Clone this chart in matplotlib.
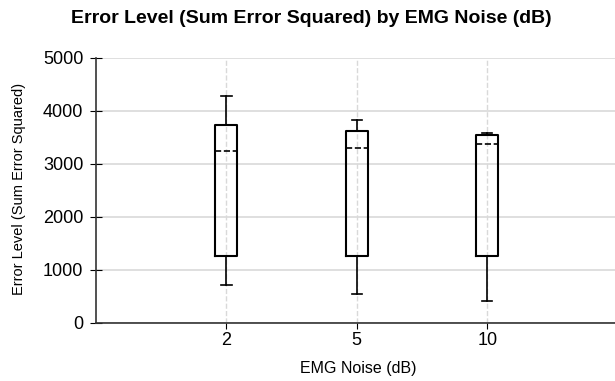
import matplotlib.pyplot as plt

plt.rcParams['font.family'] = ['Liberation Sans', 'DejaVu Sans']

# box stats
noise_levels = ['2', '5', '10']
whisker_low = [714, 543, 403]
q1 = [1269, 1263, 1263]
median = [3250, 3308, 3371]
q3 = [3731, 3617, 3542]
whisker_high = [4280, 3826, 3580]

stats = []
for i, lab in enumerate(noise_levels):
    stats.append({'label': lab, 'whislo': whisker_low[i], 'q1': q1[i],
                  'med': median[i], 'q3': q3[i], 'whishi': whisker_high[i]})

fig = plt.figure(figsize=(6.15, 3.81), dpi=100)
ax = fig.add_axes([0.156, 0.153, 0.844, 0.695])

pos = [1, 2, 3]
ax.bxp(stats, positions=pos, widths=0.17, showfliers=False,
       boxprops=dict(color='black', linewidth=1.5),
       whiskerprops=dict(color='black', linewidth=1.2),
       capprops=dict(color='black', linewidth=1.2),
       medianprops=dict(color='black', linewidth=1.2, linestyle='--'),
       capwidths=0.08)

ax.set_xlim(0, 3.98)
ax.set_ylim(0, 5000)
ax.set_yticks([0, 1000, 2000, 3000, 4000, 5000])
ax.set_xticks(pos)
ax.set_xticklabels(noise_levels)

ax.yaxis.grid(True, color='#d9d9d9', linewidth=1.2, linestyle='-')
ax.xaxis.grid(True, color='#d9d9d9', linewidth=1, linestyle='--')
ax.set_axisbelow(True)

for s in ['top', 'right']:
    ax.spines[s].set_visible(False)
ax.spines['left'].set_color('#333333')
ax.spines['bottom'].set_color('#333333')
ax.spines['left'].set_linewidth(1.2)
ax.spines['bottom'].set_linewidth(1.2)

ax.tick_params(axis='y', direction='inout', length=8, labelsize=13, pad=5)
ax.tick_params(axis='x', direction='out', length=4, labelsize=13, pad=3)

# axis labels and title placed like the original
fig.text(19 / 615, 0.505, 'Error Level (Sum Error Squared)', rotation=90,
         ha='center', va='center', fontsize=10.5)
fig.text(358 / 615, 1 - 369 / 381, 'EMG Noise (dB)',
         ha='center', va='center', fontsize=11.5)
fig.text(311 / 615, 1 - 18.5 / 381,
         'Error Level (Sum Error Squared) by EMG Noise (dB)',
         ha='center', va='center', fontsize=14, fontweight='bold')

fig.savefig('out.png', dpi=100)
